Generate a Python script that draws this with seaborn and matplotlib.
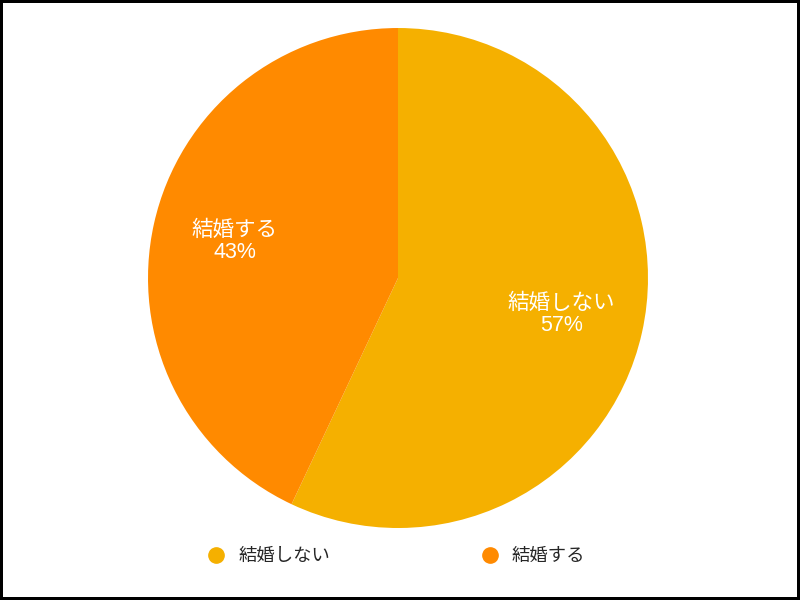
import matplotlib
matplotlib.use("Agg")
import matplotlib.pyplot as plt
import seaborn as sns
from matplotlib.lines import Line2D

labels = ["結婚しない", "結婚する"]
values = [57, 43]
colors = ["#F5B000", "#FF8A00"]

sns.set_theme(style="white")
plt.rcParams['font.family'] = ['Liberation Sans', 'Noto Sans CJK JP', 'DejaVu Sans']

fig = plt.figure(figsize=(8, 6), dpi=100)
fig.patch.set_edgecolor("black")
fig.patch.set_linewidth(4)

ax = fig.add_axes([0.185, 0.12, 0.625, 0.8333])


def pct_label(p):
    i = min(range(len(values)), key=lambda k: abs(values[k] - p))
    return f"{labels[i]}\n{values[i]}%"


wedges, texts, autotexts = ax.pie(
    values, colors=colors, startangle=90, counterclock=False,
    autopct=pct_label, pctdistance=0.67,
    wedgeprops=dict(linewidth=0),
    textprops=dict(color="white", fontsize=15.5, linespacing=1.1),
)
ax.set_xlim(-1, 1)
ax.set_ylim(-1, 1)

handles = [Line2D([], [], marker="o", linestyle="", markersize=11,
                  markerfacecolor=c, markeredgecolor=c) for c in colors]
fig.legend(handles, labels, loc="center", bbox_to_anchor=(0.495, 0.072),
           ncol=2, frameon=False, fontsize=13.2, handlelength=1.0,
           handletextpad=0.7, columnspacing=8.2)

fig.savefig("out.png", dpi=100)
